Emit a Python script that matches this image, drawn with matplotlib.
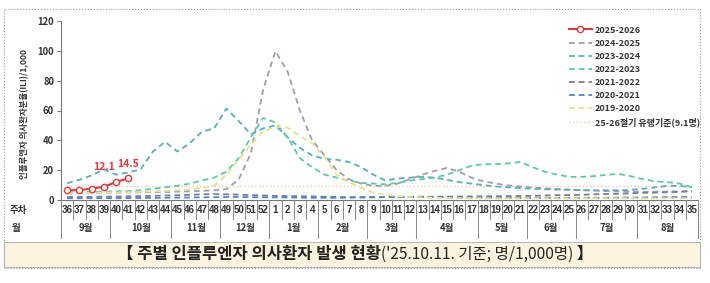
import matplotlib
matplotlib.use('Agg')
import matplotlib.pyplot as plt
import matplotlib.transforms as mtransforms
from matplotlib.lines import Line2D
from matplotlib.patches import Rectangle

plt.rcParams['font.family'] = ['Noto Sans CJK KR', 'DejaVu Sans']

W, H = 710, 283

# week axis: 36..52 then 1..35
weeks = list(range(36, 53)) + list(range(1, 36))
months = ['9월', '10월', '11월', '12월', '1월', '2월', '3월', '4월', '5월', '6월', '7월', '8월']
month_len = [4, 5, 4, 4, 4, 4, 4, 5, 4, 4, 5, 5]

s2526 = [6.5, 6.6, 7.7, 8.8, 12.1, 14.5]
s2425 = [4.5, 4.6, 4.8, 5.0, 5.0, 5.1, 5.2, 5.3, 5.4, 5.6, 5.8, 6.1, 6.5, 7.3, 13.6, 31.3, 73.9,
         99.8, 86.1, 60.0, 40.0, 30.0, 20.0, 14.0, 11.0, 9.5, 9.5, 11.0, 14.0, 17.0, 19.5, 21.5, 19.0,
         15.0, 12.5, 11.0, 9.8, 9.0, 8.3, 7.8, 7.3, 7.0, 6.6, 6.3, 6.0, 5.8, 5.6, 5.5, 5.5, 5.6, 5.8, 6.0]
s2324 = [11.3, 13.5, 16.5, 20.5, 17.0, 18.5, 20.5, 32.5, 39.0, 32.5, 38.0, 45.8, 48.0, 61.3, 53.0, 44.0, 48.0,
         50.0, 42.0, 35.0, 30.0, 27.5, 27.0, 25.5, 22.0, 17.0, 13.0, 14.5, 15.0, 15.5, 15.0, 13.5, 12.0,
         11.0, 10.0, 9.0, 8.5, 8.0, 7.5, 7.2, 7.0, 6.8, 6.6, 6.5, 6.5, 6.5, 6.8, 7.5, 8.5, 9.5, 9.5, 8.5]
s2223 = [5.0, 5.2, 5.5, 5.5, 5.8, 6.0, 6.5, 7.5, 8.5, 9.5, 11.0, 13.0, 15.0, 19.0, 28.0, 42.0, 55.0,
         52.0, 42.0, 28.0, 22.0, 17.0, 15.0, 13.0, 11.5, 11.0, 10.5, 11.5, 13.0, 14.0, 15.0, 17.0, 20.0,
         23.0, 24.0, 24.0, 24.5, 25.5, 22.0, 19.0, 17.0, 15.5, 15.5, 16.0, 16.8, 17.5, 16.0, 14.0, 12.5,
         12.0, 11.0, 8.5]
s2122 = [2.0, 2.0, 2.1, 2.2, 2.3, 2.5, 2.6, 2.8, 3.0, 3.2, 3.5, 3.8, 4.0, 3.8, 3.6, 3.3, 3.0,
         2.8, 2.6, 2.5, 2.4, 2.2, 2.0, 1.9, 1.9, 1.9, 2.0, 2.0, 2.1, 2.2, 2.2, 2.3, 2.3, 2.4, 2.4, 2.5,
         2.6, 2.7, 2.8, 3.0, 3.2, 3.3, 3.5, 3.8, 4.0, 4.2, 4.5, 4.8, 5.0, 5.2, 5.5, 5.8]
s2021 = [1.2, 1.2, 1.2, 1.3, 1.3, 1.3, 1.4, 1.4, 1.5, 1.6, 1.7, 1.8, 1.9, 2.0, 2.0, 1.9, 1.8,
         1.8, 1.7, 1.6, 1.5, 1.5, 1.5, 1.6, 1.7, 1.8, 1.9, 2.0, 2.0, 2.0, 2.0, 1.9, 1.8, 1.7, 1.6, 1.5,
         1.5, 1.4, 1.4, 1.4, 1.4, 1.4, 1.5, 1.5, 1.5, 1.6, 1.6, 1.7, 1.8, 1.9, 2.0, 2.0]
s1920 = [4.5, 4.6, 4.8, 5.0, 5.0, 5.2, 5.5, 5.7, 6.0, 6.5, 7.0, 8.0, 9.5, 17.0, 27.0, 37.0, 46.0,
         49.0, 48.5, 43.0, 38.0, 29.0, 17.0, 12.0, 8.0, 5.0, 3.5, 2.5, 2.0, 1.8, 1.5, 1.4, 1.3, 1.3,
         1.2, 1.2, 1.2, 1.2, 1.2, 1.2, 1.2, 1.2, 1.2, 1.2, 1.2, 1.2, 1.2, 1.2, 1.2, 1.2, 1.2, 1.2]
threshold = 9.1

fig = plt.figure(figsize=(W / 100, H / 100), dpi=100)


def fy(py):
    return 1 - py / H


ax = fig.add_axes([61 / W, fy(200), (698 - 61) / W, (200 - 21) / H])
x = list(range(len(weeks)))

dash = (0, (3.2, 2.2))
past = [('2024-2025', s2425, '#a29daa'),
        ('2023-2024', s2324, '#5aaebe'),
        ('2022-2023', s2223, '#5ccaa6'),
        ('2021-2022', s2122, '#7c7a96'),
        ('2020-2021', s2021, '#4f86c6'),
        ('2019-2020', s1920, '#e2e290')]

handles = []
h, = ax.plot(x[:len(s2526)], s2526, color='#e2383c', lw=1.5, marker='o', ms=4.5,
             mfc='white', mec='#e2383c', mew=1.0, zorder=10, label='2025-2026')
handles.append(h)
for lab, vals, col in past:
    h, = ax.plot(x, vals, color=col, lw=1.3, ls=dash, label=lab, zorder=3)
    handles.append(h)
h, = ax.plot(x, [threshold] * len(x), color='#f5c9a6', lw=1.0, ls=':',
             label='25-26절기 유행기준(9.1명)', zorder=2)
handles.append(h)

ax.annotate('12.1', (4, s2526[4]), xytext=(-9, 11), textcoords='offset points',
            ha='center', va='center', color='#e2383c', fontsize=7.5, fontweight='bold')
ax.annotate('14.5', (5, s2526[5]), xytext=(0, 10), textcoords='offset points',
            ha='center', va='center', color='#e2383c', fontsize=7.5, fontweight='bold')

ax.set_xlim(-0.5, 51.5)
ax.set_ylim(0, 120)
ax.set_yticks(range(0, 121, 20))
ax.set_xticks([])
for s in ['top', 'right']:
    ax.spines[s].set_visible(False)
ax.spines['left'].set_color('#777777')
ax.spines['bottom'].set_color('#777777')
ax.tick_params(axis='y', length=3, width=0.8, color='#777777', pad=2,
               labelsize=6.8, labelcolor='#333333')
for t in ax.get_yticklabels():
    t.set_fontweight('bold')

leg = ax.legend(handles=handles, loc='upper left', bbox_to_anchor=(564 / W, fy(21)),
                bbox_transform=fig.transFigure, frameon=False, fontsize=6.5,
                handlelength=2.6, handletextpad=0.35, labelspacing=0.46, borderpad=0)
for t in leg.get_texts():
    t.set_fontweight('bold')
    t.set_color('#333333')

# week / month table under the axis
trans = mtransforms.blended_transform_factory(ax.transData, fig.transFigure)
lc = '#888888'
for k in range(len(weeks) + 1):
    fig.add_artist(Line2D([k - 0.5, k - 0.5], [fy(200), fy(219)], transform=trans,
                          color=lc, lw=0.7))
bounds = [0]
for n in month_len:
    bounds.append(bounds[-1] + n)
for b in bounds:
    fig.add_artist(Line2D([b - 0.5, b - 0.5], [fy(219), fy(238)], transform=trans,
                          color=lc, lw=0.7))

for i, w in enumerate(weeks):
    ax.text(i, fy(210), str(w), transform=trans, ha='center', va='center',
            fontsize=7, fontweight='bold', color='#333333', family='Liberation Sans')
for m, a, b in zip(months, bounds[:-1], bounds[1:]):
    ax.text((a + b - 1) / 2, fy(228), m, transform=trans, ha='center', va='center',
            fontsize=6.8, fontweight='bold', color='#333333')

fig.text(18 / W, fy(210), '주차', ha='center', va='center', fontsize=6.8,
         fontweight='bold', color='#333333')
fig.text(16 / W, fy(228), '월', ha='center', va='center', fontsize=6.8,
         fontweight='bold', color='#333333')
fig.text(25 / W, fy(114), '인플루엔자 의사환자분율(ILI)/1,000', rotation=90, ha='center',
         va='center', fontsize=6.1, fontweight='bold', color='#333333')

# frame and caption box
fig.add_artist(Rectangle((4 / W, fy(268)), 696 / W, 259 / H, transform=fig.transFigure,
                         fill=False, ec='#999999', lw=0.8, ls=':'))
fig.add_artist(Rectangle((4 / W, fy(267)), 696 / W, 25 / H, transform=fig.transFigure,
                         fc='#fcf4de', ec='#aaaaaa', lw=0.6))

renderer = fig.canvas.get_renderer()
parts = [('【 주별 인플루엔자 의사환자 발생 현황', 'bold', 11.9),
         ("('25.10.11. 기준; 명/1,000명)", 'normal', 11.2),
         (' 】', 'bold', 11.9)]
texts = [fig.text(0, fy(254), p, fontsize=fs, fontweight=wt, color='#222222',
                  va='center', ha='left') for p, wt, fs in parts]
widths = [t.get_window_extent(renderer).width for t in texts]
start = 355 - sum(widths) / 2
for t, wd in zip(texts, widths):
    t.set_x(start / W)
    start += wd

fig.savefig('out.png', dpi=100)
